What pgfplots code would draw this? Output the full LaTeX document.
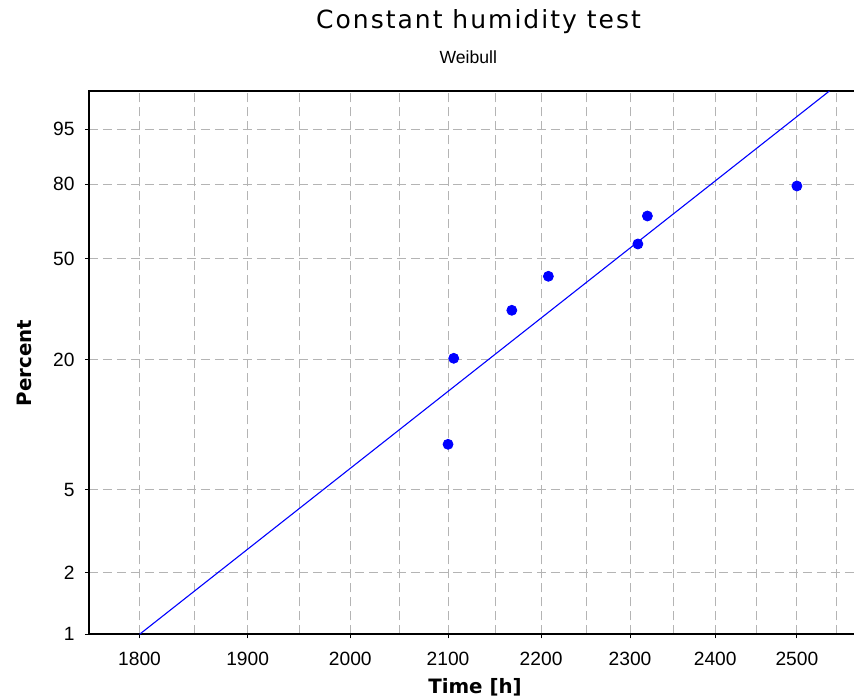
\documentclass[border=0pt]{standalone}
\usepackage{pgfplots}
\pgfplotsset{compat=1.18}
\usepackage{fontspec}
\setmainfont{Liberation Sans}
\newfontfamily\titlefont[LetterSpace=8]{DejaVu Sans}
\newfontfamily\labelfont{DejaVu Sans}
\definecolor{gridgray}{RGB}{180,180,180}
\definecolor{pblue}{RGB}{0,0,255}
% y values are on the Weibull scale: w = ln(-ln(1-p))
% p:   1%       2%       5%       20%      50%      80%     95%     99%
% w: -4.60015 -3.90194 -2.97020 -1.49994 -0.36651 0.47589 1.09719 1.52718
\begin{document}
\begin{tikzpicture}
\begin{axis}[
  at={(0pt,0pt)}, anchor=south west,
  scale only axis,
  width=385.5pt, height=271.65pt,
  xmode=log,
  xmin=1755, xmax=2580,
  ymin=-4.60015, ymax=1.52718,
  xtick={1800,1900,2000,2100,2200,2300,2400,2500},
  xticklabels={1800,1900,2000,2100,2200,2300,2400,2500},
  minor xtick={1850,1950,2050,2150,2250,2350,2450,2550},
  ytick={-4.60015,-3.90194,-2.97020,-1.49994,-0.36651,0.47589,1.09719},
  yticklabels={1,2,5,20,50,80,95},
  tick pos=left,
  tick align=outside,
  major tick length=2pt,
  minor tick length=0pt,
  tick style={black, line width=0.5pt},
  xmajorgrids, xminorgrids, ymajorgrids,
  grid style={gridgray, line width=0.5pt, dash pattern=on 4.5pt off 2.5pt},
  minor grid style={gridgray, line width=0.5pt, dash pattern=on 4.5pt off 2.5pt},
  axis line style={black, line width=0.9pt},
  every tick label/.append style={font=\fontsize{9.6}{10}\selectfont},
  yticklabel style={anchor=east, inner sep=0pt, xshift=-5pt},
  xticklabel style={anchor=north, inner sep=0pt, yshift=-6.7pt},
  clip=true,
]
\addplot[pblue, line width=0.55pt] coordinates {(1800,-4.60015) (2541,1.52718)};
\addplot[only marks, mark=*, mark size=2.5pt, pblue, mark options={fill=pblue, draw=pblue}] coordinates {
  (2100,-2.4574)
  (2106,-1.4875)
  (2168,-0.9462)
  (2208,-0.5628)
  (2309,-0.1984)
  (2320,0.1174)
  (2500,0.4557)
};
\end{axis}
\node[anchor=base, inner sep=0pt, font=\titlefont\fontsize{12.5}{14}\selectfont] at (194.9pt,302.65pt) {Constant humidity test};
\node[anchor=base, inner sep=0pt, font=\fontsize{8.8}{10}\selectfont] at (189.8pt,285.5pt) {Weibull};
\node[anchor=base, inner sep=0pt, font=\labelfont\bfseries\fontsize{9.9}{11}\selectfont] at (193.15pt,-29.5pt) {Time [h]};
\node[anchor=base, rotate=90, inner sep=0pt, font=\labelfont\bfseries\fontsize{9.9}{11}\selectfont] at (-28.35pt,135.65pt) {Percent};
\pgfresetboundingbox
\path (-44.35pt,-32.35pt) rectangle (382.65pt,317.15pt);
\end{tikzpicture}
\end{document}
